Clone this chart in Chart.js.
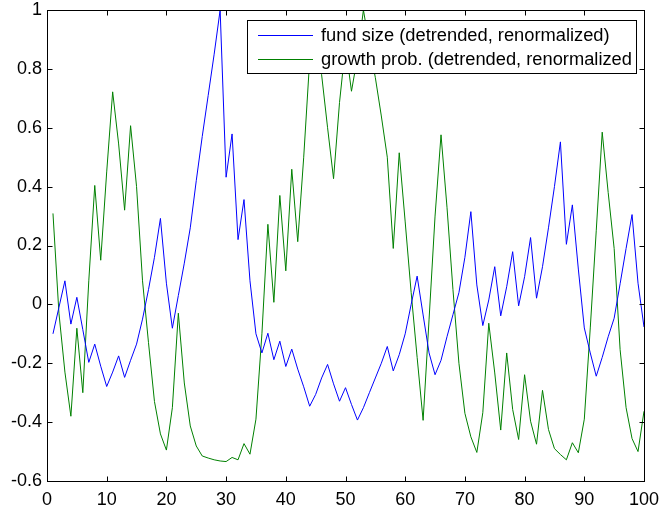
<!DOCTYPE html>
<html>
<head>
<meta charset="utf-8">
<script src="https://cdn.jsdelivr.net/npm/chart.js@4"></script>
<style>
  html, body { margin: 0; padding: 0; background: #fff; }
  #wrap { width: 662px; height: 511px; }
</style>
</head>
<body>
<div id="wrap"><canvas id="chart" width="662" height="511"></canvas></div>
<script>
var xLabels = [1,2,3,4,5,6,7,8,9,10,11,12,13,14,15,16,17,18,19,20,
  21,22,23,24,25,26,27,28,29,30,31,32,33,34,35,36,37,38,39,40,
  41,42,43,44,45,46,47,48,49,50,51,52,53,54,55,56,57,58,59,60,
  61,62,63,64,65,66,67,68,69,70,71,72,73,74,75,76,77,78,79,80,
  81,82,83,84,85,86,87,88,89,90,91,92,93,94,95,96,97,98,99,100];

var fundSize = [-0.10,-0.01,0.08,-0.067,0.024,-0.086,-0.197,-0.135,-0.21,-0.279,
  -0.23,-0.175,-0.248,-0.19,-0.135,-0.05,0.05,0.16,0.292,0.072,
  -0.081,0.03,0.14,0.26,0.42,0.57,0.71,0.85,1.0,0.432,
  0.579,0.22,0.356,0.08,-0.10,-0.165,-0.098,-0.188,-0.125,-0.211,
  -0.152,-0.22,-0.28,-0.346,-0.306,-0.25,-0.204,-0.27,-0.329,-0.283,
  -0.34,-0.393,-0.351,-0.30,-0.25,-0.2,-0.143,-0.226,-0.171,-0.10,
  0.0,0.096,-0.036,-0.165,-0.239,-0.19,-0.11,-0.035,0.04,0.16,
  0.315,0.066,-0.072,0.015,0.128,-0.039,0.06,0.179,-0.005,0.094,
  0.227,0.021,0.128,0.26,0.4,0.552,0.204,0.338,0.12,-0.08,
  -0.165,-0.244,-0.18,-0.11,-0.047,0.07,0.19,0.305,0.072,-0.077];

var growthProb = [0.309,-0.03,-0.23,-0.38,-0.081,-0.30,0.08,0.404,0.15,0.45,
  0.722,0.545,0.32,0.607,0.40,0.08,-0.13,-0.33,-0.44,-0.495,
  -0.351,-0.03,-0.267,-0.413,-0.481,-0.515,-0.522,-0.528,-0.532,-0.534,
  -0.52,-0.528,-0.473,-0.509,-0.39,-0.1,0.272,0.007,0.37,0.114,
  0.459,0.213,0.5,0.83,0.95,0.78,0.6,0.427,0.686,0.88,
  0.724,0.84,1.0,0.88,0.77,0.64,0.5,0.19,0.515,0.28,
  0.04,-0.18,-0.394,-0.05,0.3,0.576,0.33,0.05,-0.2,-0.37,
  -0.45,-0.503,-0.368,-0.064,-0.233,-0.427,-0.165,-0.357,-0.459,-0.239,
  -0.397,-0.475,-0.292,-0.425,-0.49,-0.51,-0.528,-0.47,-0.504,-0.39,
  -0.08,0.25,0.585,0.38,0.19,-0.154,-0.351,-0.456,-0.5,-0.363];

var xTicks = [0,10,20,30,40,50,60,70,80,90,100];
var yTicks = [-0.6,-0.4,-0.2,0,0.2,0.4,0.6,0.8,1];
var yTickLabels = ['-0.6','-0.4','-0.2','0','0.2','0.4','0.6','0.8','1'];

var FONT = 'Liberation Sans, Arial, Helvetica, sans-serif';

// axes box with inward ticks, drawn over the lines like matlab does
var boxPlugin = {
  id: 'matlabBox',
  afterDatasetsDraw: function(chart) {
    var c = chart.ctx, a = chart.chartArea;
    var xs = chart.scales.x, ys = chart.scales.y;
    var L = Math.round(a.left) + 0.5, R = Math.round(a.right) + 0.5;
    var T = Math.round(a.top) + 0.5, B = Math.round(a.bottom) + 0.5;
    var tl = 5;
    c.save();
    c.strokeStyle = '#000';
    c.lineWidth = 1;
    c.beginPath();
    xTicks.forEach(function(v) {
      var p = Math.round(xs.getPixelForValue(v)) + 0.5;
      c.moveTo(p, B); c.lineTo(p, B - tl);
      c.moveTo(p, T); c.lineTo(p, T + tl);
    });
    yTicks.forEach(function(v) {
      var p = Math.round(ys.getPixelForValue(v)) + 0.5;
      c.moveTo(L, p); c.lineTo(L + tl, p);
      c.moveTo(R, p); c.lineTo(R - tl, p);
    });
    c.stroke();
    c.strokeRect(L, T, R - L, B - T);

    // legend box inside the axes (text that runs past the box gets cut, as in matlab)
    var lx = 247.5, ly = 20.5, lw = 389, lh = 53;
    c.fillStyle = '#fff';
    c.fillRect(lx, ly, lw, lh);
    c.strokeRect(lx, ly, lw, lh);
    c.font = '18.3px ' + FONT;
    c.textBaseline = 'middle';
    c.textAlign = 'left';
    chart.data.datasets.forEach(function(ds, i) {
      var yy = 35.5 + i * 24;
      c.strokeStyle = ds.borderColor;
      c.beginPath();
      c.moveTo(258, yy); c.lineTo(313, yy);
      c.stroke();
      var txt = ds.label;
      while (txt.length && 321 + c.measureText(txt).width > lx + lw - 2) {
        txt = txt.slice(0, -1);
      }
      c.fillStyle = '#000';
      c.fillText(txt, 321, yy);
    });
    c.restore();
  }
};

var ctx = document.getElementById('chart').getContext('2d');
var myChart = new Chart(ctx, {
  type: 'line',
  data: {
    labels: xLabels,
    datasets: [
      {
        label: 'fund size (detrended, renormalized)',
        data: fundSize,
        borderColor: '#0000ff',
        borderWidth: 1,
        pointRadius: 0,
        tension: 0,
        fill: false
      },
      {
        label: 'growth prob. (detrended, renormalized)',
        data: growthProb,
        borderColor: '#008000',
        borderWidth: 1,
        pointRadius: 0,
        tension: 0,
        fill: false
      }
    ]
  },
  options: {
    responsive: false,
    animation: false,
    layout: { padding: { left: 0, top: 10, right: 18, bottom: 0 } },
    plugins: {
      legend: { display: false },
      tooltip: { enabled: false }
    },
    scales: {
      x: {
        type: 'linear',
        min: 0,
        max: 100,
        afterFit: function(s) { s.height = 30; s.paddingLeft = 0; s.paddingRight = 0; },
        afterBuildTicks: function(s) { s.ticks = xTicks.map(function(v) { return { value: v }; }); },
        grid: { display: false, drawTicks: false },
        border: { display: false },
        ticks: {
          autoSkip: false,
          maxRotation: 0,
          padding: 8,
          color: '#000',
          font: { family: FONT, size: 18 }
        }
      },
      y: {
        type: 'linear',
        min: -0.6,
        max: 1,
        afterFit: function(s) { s.width = 47; s.paddingTop = 0; s.paddingBottom = 0; },
        afterBuildTicks: function(s) { s.ticks = yTicks.map(function(v) { return { value: v }; }); },
        grid: { display: false, drawTicks: false },
        border: { display: false },
        ticks: {
          autoSkip: false,
          padding: 5,
          color: '#000',
          font: { family: FONT, size: 18 },
          callback: function(v) {
            var i = yTicks.findIndex(function(t) { return Math.abs(t - v) < 1e-9; });
            return i >= 0 ? yTickLabels[i] : '';
          }
        }
      }
    }
  },
  plugins: [boxPlugin]
});
</script>
</body>
</html>
